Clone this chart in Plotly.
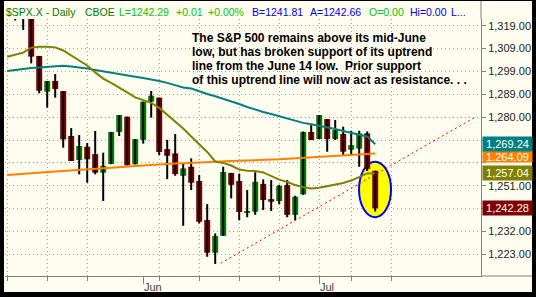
import plotly.graph_objects as go

# ---------------- data ----------------
dates = ["May 9", "May 10", "May 11", "May 12", "May 15", "May 16", "May 17", "May 18", "May 19",
         "May 22", "May 23", "May 24", "May 25", "May 26", "May 30", "May 31", "Jun 1", "Jun 2",
         "Jun 5", "Jun 6", "Jun 7", "Jun 8", "Jun 9", "Jun 12", "Jun 13", "Jun 14", "Jun 15",
         "Jun 16", "Jun 19", "Jun 20", "Jun 21", "Jun 22", "Jun 23", "Jun 26", "Jun 27", "Jun 28",
         "Jun 29", "Jun 30", "Jul 3", "Jul 5", "Jul 6", "Jul 7", "Jul 10", "Jul 11", "Jul 12", "Jul 13"]
bar_idx = list(range(46))

opens = [1324.7, 1324.6, 1322.6, 1306.3, 1291.3, 1295.8, 1291.6, 1272.7, 1262.6, 1268.2,
         1265.1, 1257.3, 1260.9, 1274.4, 1280.8, 1260.8, 1271.1, 1287.1, 1288.8, 1267.2,
         1265.4, 1256.0, 1259.8, 1253.8, 1237.4, 1223.7, 1230.8, 1257.2, 1253.8, 1240.4,
         1240.9, 1252.6, 1246.2, 1245.4, 1252.1, 1239.6, 1248.2, 1274.4, 1271.4, 1279.8,
         1271.4, 1273.6, 1266.9, 1267.4, 1273.8, 1258.1]
highs = [1326.6, 1325.5, 1322.6, 1306.3, 1295.8, 1298.7, 1291.6, 1276.0, 1273.1, 1269.8,
         1274.8, 1265.7, 1274.4, 1281.5, 1280.8, 1271.4, 1287.1, 1291.6, 1288.8, 1271.1,
         1273.5, 1261.2, 1263.3, 1256.3, 1244.1, 1231.8, 1259.8, 1257.2, 1256.9, 1250.0,
         1257.5, 1254.5, 1254.2, 1252.2, 1254.2, 1247.6, 1274.6, 1277.6, 1281.5, 1279.8,
         1279.4, 1276.6, 1274.9, 1274.9, 1274.6, 1258.1]
lows = [1321.2, 1317.2, 1303.2, 1290.6, 1284.6, 1288.8, 1267.8, 1262.2, 1256.6, 1253.1,
        1256.6, 1245.4, 1260.9, 1272.7, 1260.4, 1260.8, 1269.5, 1280.4, 1264.7, 1254.6,
        1256.0, 1235.0, 1250.0, 1236.0, 1222.0, 1219.0, 1230.8, 1246.5, 1237.3, 1238.6,
        1239.6, 1241.6, 1241.2, 1244.0, 1238.6, 1237.4, 1248.0, 1271.0, 1271.4, 1266.1,
        1271.0, 1264.4, 1264.4, 1259.8, 1258.0, 1241.0]
closes = [1325.1, 1322.9, 1306.0, 1291.7, 1295.8, 1292.4, 1271.3, 1262.2, 1268.5, 1262.9,
          1257.3, 1260.2, 1274.4, 1281.5, 1260.4, 1271.4, 1287.1, 1289.6, 1266.0, 1264.4,
          1256.7, 1259.1, 1253.1, 1236.7, 1223.7, 1230.7, 1257.6, 1252.2, 1240.8, 1241.2,
          1253.5, 1245.8, 1245.1, 1251.7, 1239.6, 1247.2, 1274.4, 1271.0, 1281.5, 1271.4,
          1275.2, 1266.1, 1268.9, 1273.8, 1258.9, 1242.28]

ma_idx = list(range(-1, 46))
ma_teal = [1300.0, 1300.5, 1301.0, 1301.2, 1301.5, 1301.7, 1302.0, 1302.2, 1301.9, 1301.6,
           1301.0, 1300.4, 1299.9, 1299.3, 1298.7, 1298.2, 1297.6, 1297.0, 1296.5, 1295.8,
           1295.0, 1294.1, 1293.1, 1292.6, 1291.4, 1290.3, 1289.4, 1288.4, 1287.4, 1286.1,
           1284.9, 1283.7, 1282.8, 1281.9, 1280.9, 1280.0, 1279.1, 1278.2, 1277.6, 1277.0,
           1276.5, 1275.6, 1274.8, 1274.1, 1273.5, 1272.5, 1269.24]
ma_olive = [1306.0, 1306.9, 1307.7, 1309.8, 1310.2, 1310.2, 1309.9, 1308.6, 1306.5, 1304.6,
            1302.3, 1299.4, 1296.8, 1295.0, 1293.1, 1291.0, 1288.9, 1287.8, 1286.6, 1284.5,
            1281.7, 1278.8, 1275.8, 1272.5, 1269.1, 1266.0, 1262.0, 1261.4, 1260.3, 1258.6,
            1258.1, 1258.0, 1257.4, 1255.9, 1254.4, 1253.4, 1252.1, 1251.2, 1250.7, 1251.0,
            1251.6, 1252.5, 1253.0, 1254.0, 1255.5, 1257.0, 1257.04]
ma_orange = [1256.3, 1256.5, 1256.8, 1257.0, 1257.2, 1257.5, 1257.8, 1258.0, 1258.3, 1258.5,
             1258.8, 1259.0, 1259.2, 1259.4, 1259.7, 1259.9, 1260.1, 1260.3, 1260.5, 1260.8,
             1261.0, 1261.2, 1261.3, 1261.5, 1261.6, 1261.8, 1261.9, 1262.0, 1262.2, 1262.3,
             1262.5, 1262.6, 1262.7, 1262.8, 1262.9, 1263.1, 1263.2, 1263.4, 1263.6, 1263.8,
             1264.0, 1264.3, 1264.5, 1264.7, 1264.9, 1265.1, 1265.3]

trend_idx = [25.7, 57.6]
trend_val = [1219.3, 1280.8]

y_tickvals = [1319.0, 1309.4, 1299.8, 1290.2, 1280.6, 1271.0, 1261.4, 1251.8, 1242.2, 1232.6, 1223.0]
# labels at 1,270 / 1,261 / 1,242 are covered by the value boxes in the reference
y_ticktext = ["1,319.00", "1,309.00", "1,299.00", "1,289.00", "1,280.00", "",
              "", "1,251.00", "", "1,232.00", "1,223.00"]
week_ticks = [-1, 4, 9, 18, 23, 28, 33, 38, 42, 47]
month_ticks = [16, 38]
month_labels = ["Jun", "Jul"]

box_vals = [1264.09, 1269.24, 1257.04, 1242.28]
box_text = ["1,264.09", "1,269.24", "1,257.04", "1,242.28"]
box_colors = ["#FF8000", "#008080", "#808000", "#800000"]
box_heights = [9, 12, 12, 12]

note_lines = ["The S&P 500 remains above its mid-June",
              "low, but has broken support of its uptrend",
              "line from the June 14 low.  Prior support",
              "of this uptrend line will now act as resistance. . ."]

header_parts = [("$SPX.X - Daily", 5, "#007A00"), ("CBOE", 83.7, "#007A00"),
                ("L=1242.29", 117.7, "#00C800"), ("+0.01", 174.7, "#00C800"),
                ("+0.00%", 207.3, "#00C800"), ("B=1241.81", 250.6, "#0000F0"),
                ("A=1242.66", 309.4, "#0000F0"), ("O=0.00", 368.2, "#00C800"),
                ("Hi=0.00", 408.5, "#0000F0"), ("L...", 449.6, "#0000F0")]

# ---------------- geometry helpers (pixels -> paper) ----------------
W, H = 536, 297
ML, MR, MT, MB = 5, 55, 19, 21
PW, PH = W - ML - MR, H - MT - MB
BG = "#FFFCF0"


def px2x(px):
    return (px - ML) / PW


def py2y(py):
    return (H - MB - py) / PH


fig = go.Figure()

# wicks
wx, wy = [], []
for i, hi, lo in zip(bar_idx, highs, lows):
    wx += [i, i, None]
    wy += [lo, hi, None]
fig.add_trace(go.Scatter(x=wx, y=wy, mode="lines", line=dict(color="black", width=2),
                         hoverinfo="skip"))

# bodies
bases = [min(o, c) for o, c in zip(opens, closes)]
heights = [max(abs(c - o), 0.5) for o, c in zip(opens, closes)]
colors = ["#008000" if c > o else "#800000" for o, c in zip(opens, closes)]
fig.add_trace(go.Bar(x=bar_idx, y=heights, base=bases, width=0.75,
                     marker=dict(color=colors, line=dict(width=0))))

# moving averages
fig.add_trace(go.Scatter(x=ma_idx, y=ma_orange, mode="lines", line=dict(color="#FF8000", width=2)))
fig.add_trace(go.Scatter(x=ma_idx, y=ma_teal, mode="lines", line=dict(color="#008080", width=2)))
fig.add_trace(go.Scatter(x=ma_idx, y=ma_olive, mode="lines", line=dict(color="#808000", width=2)))

# trendline
fig.add_trace(go.Scatter(x=trend_idx, y=trend_val, mode="lines",
                         line=dict(color="#FF0000", width=1, dash="2px,3px")))

# highlight ellipse around last bar
ell = dict(type="circle", xref="x", yref="y", x0=42.98, x1=46.98, y0=1238.6, y1=1261.9,
           fillcolor="#FFFF00", line=dict(color="#0000FF", width=2))
try:
    fig.add_shape(layer="between", **ell)
except Exception:
    fig.add_shape(layer="below", **ell)

# frame pieces
black = dict(type="rect", xref="paper", yref="paper", fillcolor="black", line=dict(width=0),
             layer="above")
fig.add_shape(x0=px2x(0), x1=px2x(4), y0=py2y(0), y1=py2y(H), **black)
fig.add_shape(x0=px2x(532), x1=px2x(W), y0=py2y(0), y1=py2y(H), **black)
fig.add_shape(x0=px2x(0), x1=px2x(W), y0=py2y(292), y1=py2y(H), **black)
fig.add_shape(x0=px2x(0), x1=px2x(W), y0=py2y(0), y1=py2y(1), **black)
fig.add_shape(type="line", xref="paper", yref="paper", x0=1, x1=1, y0=1, y1=py2y(1),
              line=dict(color="#808080", width=1))
fig.add_shape(type="line", xref="paper", yref="paper", x0=1, x1=px2x(532), y0=0, y1=0,
              line=dict(color="#808080", width=1))

annotations = []
# header
for txt, px, col in header_parts:
    annotations.append(dict(text=txt, xref="paper", yref="paper", x=px2x(px) - 0.002, y=py2y(11.5),
                            xanchor="left", yanchor="middle", showarrow=False,
                            font=dict(family="Liberation Sans, Arial", size=10.5, color=col)))
# note text
for k, line in enumerate(note_lines):
    annotations.append(dict(text="<b>" + line + "</b>", xref="paper", yref="paper",
                            x=px2x(190), y=py2y(38.3 + 14 * k), xanchor="left", yanchor="middle",
                            showarrow=False,
                            font=dict(family="Liberation Sans, Arial", size=12, color="black")))
# month labels
for mt, ml in zip(month_ticks, month_labels):
    annotations.append(dict(text=ml, xref="x", yref="paper", x=mt, y=py2y(286.5),
                            xanchor="left", yanchor="middle", showarrow=False, xshift=-1,
                            font=dict(family="Liberation Sans, Arial", size=11, color="#404040")))
# value boxes
for v, t, c, bh in zip(box_vals, box_text, box_colors, box_heights):
    annotations.append(dict(text=t, xref="paper", yref="y", x=1, y=v, xanchor="left",
                            yanchor="middle", xshift=1, showarrow=False, width=47, height=bh,
                            bgcolor=c, borderpad=1, align="center",
                            font=dict(family="Liberation Sans, Arial", size=11, color="white")))

fig.update_layout(
    width=W, height=H, margin=dict(l=ML, r=MR, t=MT, b=MB),
    paper_bgcolor=BG, plot_bgcolor=BG, showlegend=False, annotations=annotations,
    xaxis=dict(range=[-1.275, 58.225], showgrid=False, zeroline=False, showline=True,
               linecolor="#808080", linewidth=1, ticks="outside", tickvals=month_ticks,
               ticklen=7, tickcolor="#808080", showticklabels=False,
               minor=dict(tickvals=week_ticks, ticks="outside", ticklen=4, tickcolor="#808080",
                          showgrid=True, gridcolor="#A0A0A0", griddash="1px,3px", gridwidth=1)),
    yaxis=dict(side="right", range=[1213.93, 1321.81], tickvals=y_tickvals, ticktext=y_ticktext,
               showgrid=True, gridcolor="#A0A0A0", griddash="1px,3px", gridwidth=1,
               zeroline=False, showline=True, linecolor="#808080", linewidth=1,
               ticks="outside", ticklen=4, tickcolor="#808080",
               tickfont=dict(family="Liberation Sans, Arial", size=11, color="#222222")),
)

fig.write_html("out.html")
